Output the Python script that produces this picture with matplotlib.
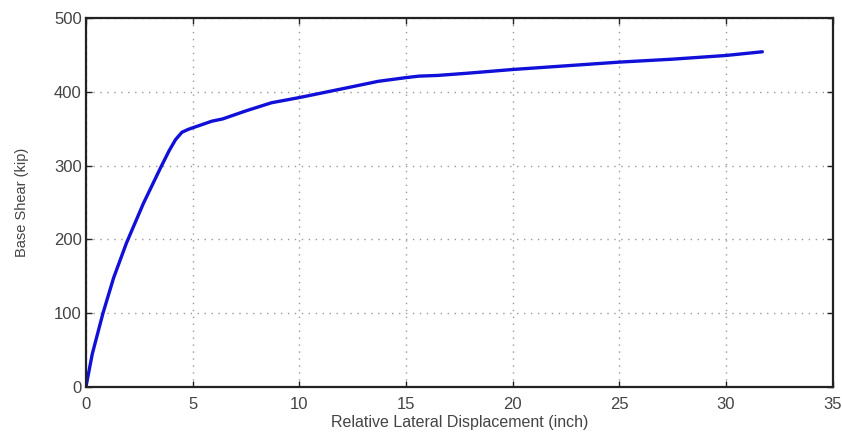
import numpy as np
import matplotlib.pyplot as plt

# pushover curve
disp = [0, 0.3, 0.8, 1.3, 1.9, 2.7, 3.5, 3.9, 4.2, 4.5, 4.8, 5.2, 5.9, 6.4, 7.5, 8.7, 10, 12.2, 13.7, 15.0, 15.6, 16.5, 17.9, 20, 22.5, 25, 27.5, 30, 31.7]
shear = [0, 45, 100, 148, 195, 249, 297, 320, 335, 345, 349, 353, 360, 363, 374, 385, 392, 405, 414, 419, 421, 422, 425, 430, 435, 440, 444, 449, 454]

xticks = [0, 5, 10, 15, 20, 25, 30, 35]
yticks = [0, 100, 200, 300, 400, 500]

plt.rcParams['font.family'] = ['Liberation Sans', 'DejaVu Sans']

fig = plt.figure(figsize=(8.42, 4.34), dpi=100)
ax = fig.add_axes([0.102, 0.108, 0.887, 0.851])

ax.plot(disp, shear, color='#1010d8', lw=2.4, solid_capstyle='round', solid_joinstyle='round')

ax.set_xlim(0, 35)
ax.set_ylim(0, 500)
ax.set_xticks(xticks)
ax.set_yticks(yticks)
ax.tick_params(direction='in', length=4, width=1, labelsize=12, colors='#222222', labelcolor='#444444', pad=3)
ax.tick_params(axis='x', pad=7)
ax.tick_params(top=True, right=True)
for s in ax.spines.values():
    s.set_linewidth(1.6)
    s.set_color('#222222')

ax.grid(True, linestyle=(0, (1, 4)), color='#999999', linewidth=1)

ax.set_xlabel('Relative Lateral Displacement (inch)', fontsize=11.5, color='#444444', labelpad=2)
ax.set_ylabel('Base Shear (kip)', fontsize=10.5, color='#444444', labelpad=18)

fig.savefig('out.png', dpi=100)
